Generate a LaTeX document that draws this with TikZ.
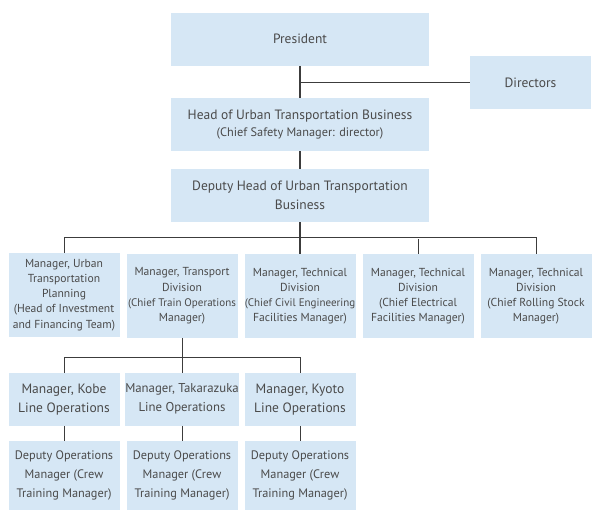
\documentclass[tikz,border=0pt]{standalone}
\usepackage{fontspec}
\setmainfont{PT Sans}
\definecolor{boxfill}{HTML}{D6E7F5}
\definecolor{linecol}{HTML}{3C3C3C}
\definecolor{txtcol}{HTML}{4A4A4A}
\tikzset{
  orgbox/.style={fill=boxfill, draw=none, text=txtcol, align=center, inner sep=0pt, anchor=center},
  topbox/.style={orgbox, minimum width=258pt, minimum height=53pt, font=\fontsize{13.5}{19.5}\selectfont},
  rowtwo/.style={orgbox, minimum width=111pt, minimum height=84pt, font=\fontsize{11.6}{15.2}\selectfont},
  rowthree/.style={orgbox, minimum width=111pt, minimum height=53pt, font=\fontsize{13.5}{19}\selectfont},
  rowfour/.style={orgbox, minimum width=111pt, minimum height=69pt, font=\fontsize{12.3}{18.8}\selectfont},
  conn/.style={draw=linecol, line width=0.9pt},
  trunk/.style={draw=linecol, line width=1.8pt},
}
\newcommand{\narrowline}[1]{{\fontsize{11}{15.2}\selectfont #1}}
\begin{document}
\begin{tikzpicture}[x=1pt,y=-1pt]
\useasboundingbox (0,0) rectangle (599,518);
\node[topbox] (pres) at (300,39.3) {President};
\node[orgbox, minimum width=121pt, minimum height=53pt, font=\fontsize{13.5}{19}\selectfont] (dir) at (530.5,82.5) {Directors};
\node[topbox, font=\fontsize{13.5}{17.7}\selectfont] (head) at (300,124.5) {Head of Urban Transportation Business\\{\fontsize{12.3}{17.7}\selectfont (Chief Safety Manager: director)}};
\node[topbox] (dep) at (300,195.5) {Deputy Head of Urban Transportation\\Business};
\node[rowtwo] (plan) at (64,295) {Manager, Urban\\Transportation\\Planning\\(Head of Investment\\and Financing Team)};
\node[rowtwo] (trans) at (182,296) {Manager, Transport\\Division\\\narrowline{(Chief Train Operations}\\Manager)};
\node[rowtwo] (civil) at (300,296) {Manager, Technical\\Division\\\narrowline{(Chief Civil Engineering}\\Facilities Manager)};
\node[rowtwo] (elec) at (418,296) {Manager, Technical\\Division\\(Chief Electrical\\Facilities Manager)};
\node[rowtwo] (roll) at (536,296) {Manager, Technical\\Division\\(Chief Rolling Stock\\Manager)};
\node[rowthree] (kobe) at (64,399.2) {Manager, Kobe\\Line Operations};
\node[rowthree, font=\fontsize{12.8}{19}\selectfont] (taka) at (182,399.2) {Manager, Takarazuka\\Line Operations};
\node[rowthree] (kyoto) at (300,399.2) {Manager, Kyoto\\Line Operations};
\node[rowfour] (kobed) at (64,475.5) {Deputy Operations\\Manager (Crew\\Training Manager)};
\node[rowfour] (takad) at (182,475.5) {Deputy Operations\\Manager (Crew\\Training Manager)};
\node[rowfour] (kyotod) at (300,475.5) {Deputy Operations\\Manager (Crew\\Training Manager)};
% connectors
\draw[trunk] (pres.south) -- (head.north);
\draw[conn] (pres.south |- dir.west) -- (dir.west);
\draw[trunk] (head.south) -- (dep.north);
\draw[trunk] (dep.south) -- (civil.north);
\draw[conn] (plan.north) -- ++(0,-15) -| (roll.north);
\draw[conn] (elec.north) -- ++(0,-15);
\draw[conn] (trans.south) -- (taka.north);
\draw[conn] (kobe.north) -- ++(0,-15) -| (kyoto.north);
\draw[conn] (kobe.south) -- (kobed.north);
\draw[conn] (taka.south) -- (takad.north);
\draw[conn] (kyoto.south) -- (kyotod.north);
\end{tikzpicture}
\end{document}
